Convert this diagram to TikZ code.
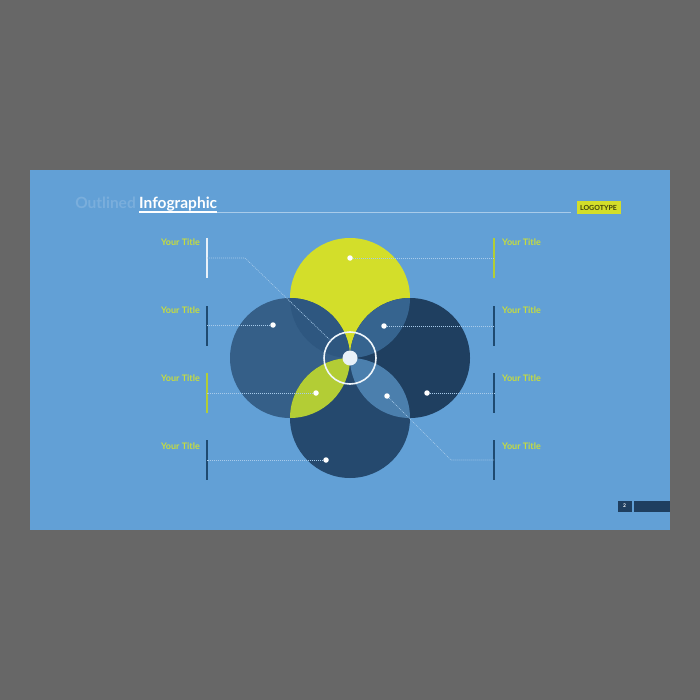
\documentclass[tikz,border=0pt]{standalone}
\usepackage{fontspec}
\setmainfont{Lato}
\usepackage{tikz}
\usetikzlibrary{calc,positioning}
\definecolor{pagegray}{HTML}{676767}
\definecolor{slideblue}{HTML}{62A0D6}
\definecolor{limey}{HTML}{D3DE2A}
\definecolor{limeg}{HTML}{B3CD35}
\definecolor{ttlcol}{HTML}{C6DC3E}
\definecolor{navyA}{HTML}{355F88}
\definecolor{navyB}{HTML}{1F3F60}
\definecolor{navyC}{HTML}{25496E}
\definecolor{lensTL}{HTML}{2E5780}
\definecolor{lensTR}{HTML}{36648F}
\definecolor{lensRB}{HTML}{4B7FAD}
\definecolor{barnavy}{HTML}{1F4A70}
\definecolor{dotcol}{HTML}{A8CBEA}
\tikzset{
  dotline/.style={draw=dotcol, line width=0.6pt, dash pattern=on 1pt off 1pt},
  bar/.style={line width=2pt},
  ttl/.style={text=ttlcol, font=\fontsize{9}{10}\bfseries, inner sep=0pt},
  spot/.style={circle, fill=white, inner sep=0pt, minimum size=5.5pt},
}
\begin{document}
\begin{tikzpicture}[x=1pt,y=-1pt]
			%%%%% START %%%%%
			
			\fill[pagegray] (0,0) rectangle (700,700);
			\fill[slideblue] (30,170) rectangle (670,530);
			
			% header
			\node[anchor=base east, inner sep=0pt, text=slideblue!85!white, font=\fontsize{15.5}{17}\bfseries] (outl) at (136,209) {Outlined};
			\node[anchor=base west, inner sep=0pt, text=white, font=\fontsize{15.5}{17}\bfseries] (info) at (139,209) {Infographic};
			\coordinate (ulA) at (139,212);
			\coordinate (ulB) at (217,212);
			\coordinate (ulC) at (571,212);
			\draw[white, line width=1.2pt] (ulA) -- (ulB);
			\draw[dotcol, line width=0.8pt] (ulB) -- (ulC);
			\node[fill=limey, text=black!70!limey, font=\fontsize{7}{8}\bfseries, inner sep=0pt, minimum width=44pt, minimum height=13pt] (logo) at (598.5,207.5) {LOGOTYPE};
			
			% circles
			\fill[limey] (350,298) circle (60pt);
			\fill[navyA] (290,358) circle (60pt);
			\fill[navyB] (410,358) circle (60pt);
			\fill[navyC] (350,418) circle (60pt);
			\begin{scope}
				\clip (350,298) circle (60pt);
				\fill[lensTL] (290,358) circle (60pt);
				\fill[lensTR] (410,358) circle (60pt);
			\end{scope}
			\begin{scope}
				\clip (350,418) circle (60pt);
				\fill[limeg] (290,358) circle (60pt);
				\fill[lensRB] (410,358) circle (60pt);
			\end{scope}
			\draw[white!90!slideblue, line width=1.6pt] (350,358) circle (26pt);
			\fill[white!85!slideblue] (350,358) circle (7.5pt);
			
			% bars
			\draw[bar, white!85!slideblue] (207,238) -- (207,278);
			\draw[bar, barnavy] (207,306) -- (207,346);
			\draw[bar, limeg] (207,373) -- (207,413);
			\draw[bar, barnavy] (207,440) -- (207,480);
			\draw[bar, limeg] (494,238) -- (494,278);
			\draw[bar, barnavy] (494,306) -- (494,346);
			\draw[bar, barnavy] (494,373) -- (494,413);
			\draw[bar, barnavy] (494,440) -- (494,480);
			
			% titles
			\foreach \yy [count=\i] in {242,310,378,446}{
				\node[ttl, anchor=east] (tl\i) at (200,\yy) {Your Title};
				\node[ttl, anchor=west] (tr\i) at (502,\yy) {Your Title};
			}
			
			% dots and leaders
			\coordinate (pL1) at (207,258);
			\coordinate (kL1) at (245,258);
			\coordinate (ring) at (331,341);
			\draw[dotline] (pL1) -- (kL1) -- (ring);
			
			\node[spot] (dL2) at (273,325) {};
			\node[spot] (dL3) at (316,393) {};
			\node[spot] (dL4) at (326,460) {};
			\node[spot] (dR1) at (350,258) {};
			\node[spot] (dR2) at (384,326) {};
			\node[spot] (dR3) at (427,393) {};
			\node[spot] (dR4) at (387,396) {};
			\coordinate (pL2) at (207,325);
			\coordinate (pL3) at (207,393);
			\coordinate (pL4) at (207,460);
			\coordinate (pR1) at (494,258);
			\coordinate (pR2) at (494,326);
			\coordinate (pR3) at (494,393);
			\coordinate (kR4) at (451,460);
			\coordinate (pR4) at (494,460);
			\draw[dotline] (dL2) -- (pL2);
			\draw[dotline] (dL3) -- (pL3);
			\draw[dotline] (dL4) -- (pL4);
			\draw[dotline] (dR1) -- (pR1);
			\draw[dotline] (dR2) -- (pR2);
			\draw[dotline] (dR3) -- (pR3);
			\draw[dotline] (dR4) -- (kR4) -- (pR4);
			
			% page number
			\node[fill=navyB, text=white, font=\fontsize{5}{6}\bfseries, inner sep=0pt, minimum width=14pt, minimum height=11pt] (pg) at (624.5,506) {2};
			\fill[navyB] (634,500.5) rectangle (670,511.5);
			
			%%%%% END %%%%%
		\end{tikzpicture}
\end{document}
